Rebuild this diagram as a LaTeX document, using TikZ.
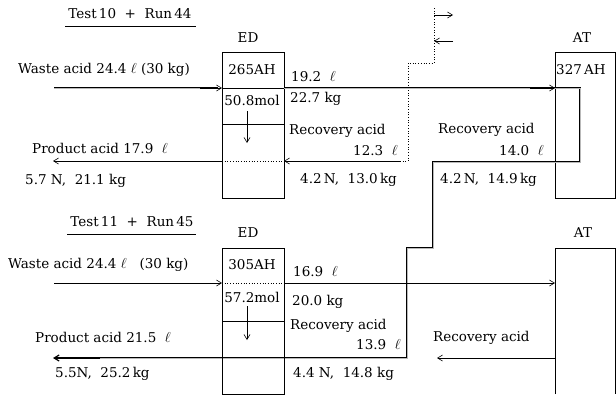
\documentclass[tikz,border=0pt]{standalone}
\usepackage{fontspec}
\setmainfont{DejaVu Serif}
\usetikzlibrary{arrows.meta}
\begin{document}
\begin{tikzpicture}[x=1pt,y=-1pt,
  txt/.style={inner sep=0pt,font=\fontsize{13.5}{16}\selectfont},
  boxline/.style={line width=0.7pt},
  lnthin/.style={line width=0.6pt},
  dbl/.style={line width=0.7pt,draw=gray!55,preaction={draw=black,line width=2.5pt}},
  arr/.style={-{Straight Barb[length=5pt,width=6pt]}},
  dot/.style={line width=0.7pt,dotted}]
\useasboundingbox (0,0) rectangle (616,394);
% ===== top =====
\node[txt] (t1) at (130,14) {Test\,10 \ + \ Run\,44};
\draw[lnthin] (65,26) -- (196,26);
\node[txt] (ed1) at (248,38) {ED};
\node[txt] (at1) at (582,38) {AT};
\draw[boxline] (222,52) rectangle (284,198);
\draw[boxline] (555,52) rectangle (615,198);
\draw[boxline] (222,124) -- (284,124);
\draw[dot] (222,161) -- (284,161);
\node[txt] (c1) at (252,70) {265AH};
\node[txt] (m1) at (252,100) {50.8mol};
\draw[lnthin,arr] (247,111) -- (247,143);
\node[txt,anchor=west] (w1) at (18,70) {Waste acid 24.4 $\ell$ (30 kg)};
\node[txt,anchor=west] (p1) at (32,148) {Product acid 17.9 \ $\ell$};
\node[txt,anchor=west] (n1) at (25,181) {5.7 N, \ 21.1 kg};
\node[txt,anchor=west] (v1) at (291,77) {19.2 \ $\ell$};
\node[txt,anchor=west] (k1) at (290,99) {22.7 kg};
\node[txt,anchor=west] (r1) at (289,131) {Recovery acid};
\node[txt,anchor=east] (rv1) at (398,151) {12.3 \ $\ell$};
\node[txt,anchor=west] (rn1) at (300,180) {4.2\,N, \ 13.0\,kg};
\node[txt,anchor=west] (ah2) at (556,70) {327\,AH};
\node[txt,anchor=west] (r2) at (438,130) {Recovery acid};
\node[txt,anchor=east] (rv2) at (544,151) {14.0 \ $\ell$};
\node[txt,anchor=west] (rn2) at (440,180) {4.2\,N, \ 14.9\,kg};
% waste acid in
\draw[dbl] (54,88) -- (218,88);
\draw[lnthin,arr] (200,88) -- (222,88);
\draw[boxline] (222,88) -- (284,88);
% double path to AT and down to bottom ED
\draw[dbl] (284,88) -- (580,88) -- (580,162) -- (433,162) -- (433,248) -- (407,248) -- (407,358) -- (58,358);
\draw[lnthin,arr] (530,88) -- (555,88);
% product acid out top
\draw[lnthin,arr] (222,161) -- (53,161);
% recovery acid return top
\draw[lnthin,arr] (400,161) -- (284,161);
\draw[dot] (400,161) -- (408,161) -- (408,63) -- (434,63) -- (434,7);
\draw[lnthin,arr] (434,15) -- (453,15);
\draw[lnthin,arr] (453,41) -- (434,41);
% ===== bottom =====
\node[txt] (t2) at (132,222) {Test\,11 \ + \ Run\,45};
\draw[lnthin] (67,234) -- (196,234);
\node[txt] (ed2) at (248,233) {ED};
\node[txt] (at2) at (583,233) {AT};
\draw[boxline] (222,248) rectangle (284,394);
\draw[boxline] (555,394) -- (555,248) -- (615,248) -- (615,394);
\draw[dot] (222,283) -- (284,283);
\draw[boxline] (222,321) -- (284,321);
\node[txt] (c2) at (252,265) {305AH};
\node[txt] (m2) at (252,297) {57.2mol};
\draw[lnthin,arr] (247,306) -- (247,340);
\node[txt,anchor=west] (w2) at (8,265) {Waste acid 24.4 $\ell$ \ \ (30 kg)};
\node[txt,anchor=west] (p2) at (35,337) {Product acid 21.5 \ $\ell$};
\node[txt,anchor=west] (n2) at (55,374) {5.5N, \ 25.2\,kg};
\node[txt,anchor=west] (v2) at (293,272) {16.9 \ $\ell$};
\node[txt,anchor=west] (k2) at (292,302) {20.0 kg};
\node[txt,anchor=west] (r3) at (290,326) {Recovery acid};
\node[txt,anchor=east] (rv3) at (401,345) {13.9 \ $\ell$};
\node[txt,anchor=west] (rn3) at (293,374) {4.4 N, \ 14.8 kg};
\node[txt,anchor=west] (r4) at (433,338) {Recovery acid};
\draw[lnthin,arr] (54,283) -- (222,283);
\draw[lnthin,arr] (284,283) -- (555,283);
\draw[line width=1.2pt,arr] (100,358) -- (53,358);
\draw[lnthin,arr] (555,358) -- (437,358);
\end{tikzpicture}
\end{document}
